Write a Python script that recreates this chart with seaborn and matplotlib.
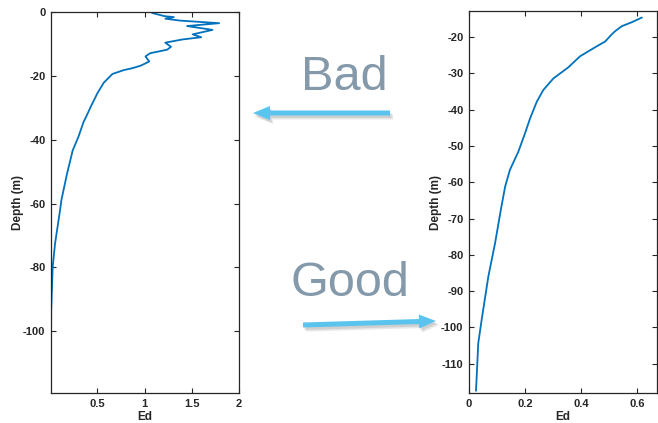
import numpy as np
import pandas as pd
import matplotlib
matplotlib.use("Agg")
import matplotlib.pyplot as plt
import seaborn as sns
from matplotlib.patches import FancyArrow

# ---- data ----
bad_ed = [1.08, 1.21, 1.31, 1.22, 1.38, 1.79, 1.45, 1.72, 1.51, 1.60,
          1.40, 1.22, 1.28, 1.24, 1.06, 1.01, 1.05, 0.96, 0.87, 0.78, 0.66, 0.567,
          0.50, 0.43, 0.39, 0.355, 0.30, 0.24, 0.18, 0.12, 0.106, 0.053,
          0.028, 0.012, 0.010]
bad_depth = [-0.3, -1.3, -1.6, -2.1, -2.7, -3.5, -4.4, -5.6, -7.0, -7.9,
             -8.6, -9.6, -10.9, -11.8, -12.9, -13.9, -15.5, -16.8, -17.6, -18.2, -19.4, -22.2,
             -25.5, -29.7, -32.3, -34.4, -39.1, -43.3, -50.6, -58.9, -62.0, -72.5,
             -79.8, -93.4, -108.0]

good_ed = [0.617, 0.581, 0.545, 0.521, 0.51, 0.486, 0.45, 0.396, 0.355, 0.301,
           0.265, 0.242, 0.218, 0.200, 0.176, 0.146, 0.129, 0.115, 0.093,
           0.069, 0.045, 0.033, 0.025]
good_depth = [-14.6, -15.9, -17.0, -18.4, -19.2, -21.2, -22.8, -25.3, -28.3, -31.4,
              -34.6, -37.8, -42.4, -46.5, -51.6, -56.6, -61.2, -67.0, -76.8,
              -86.0, -98.0, -104.4, -117.5]

bad_xticks = [0.5, 1, 1.5, 2]
bad_yticks = [0, -20, -40, -60, -80, -100]
good_xticks = [0, 0.2, 0.4, 0.6]
good_yticks = [-20, -30, -40, -50, -60, -70, -80, -90, -100, -110]

# ---- style ----
sns.set_theme(style="white")
plt.rcParams['font.family'] = ['Liberation Sans', 'DejaVu Sans']
plt.rcParams['axes.unicode_minus'] = False

W, H = 658, 423
fig = plt.figure(figsize=(W / 100, H / 100), dpi=100)
fig.patch.set_facecolor('white')

line_color = '#0072BD'
spine_color = '#262626'


def px_axes(l, t, r, b):
    return fig.add_axes([l / W, 1 - b / H, (r - l) / W, (b - t) / H])


def style_axes(ax, xticks, yticks, xlim, ylim):
    ax.set_xlim(*xlim)
    ax.set_ylim(*ylim)
    ax.set_xticks(xticks)
    ax.set_yticks(yticks)
    ax.set_xticklabels([f"{v:g}" for v in xticks], fontweight='bold', fontsize=8)
    ax.set_yticklabels([f"{v:g}" for v in yticks], fontweight='bold', fontsize=8)
    ax.tick_params(direction='in', length=3.5, width=0.8, top=True, right=True,
                   bottom=True, left=True, colors=spine_color, labelcolor='#262626', pad=4)
    for s in ax.spines.values():
        s.set_color(spine_color)
        s.set_linewidth(0.9)
        s.set_visible(True)
    ax.set_xlabel('Ed', fontweight='bold', fontsize=8.5, labelpad=2)
    ax.set_ylabel('Depth (m)', fontweight='bold', fontsize=8.5, labelpad=-0.5)
    ax.grid(False)


ax1 = px_axes(51, 12, 239, 393)
df1 = pd.DataFrame({'Ed': bad_ed, 'Depth': bad_depth})
sns.lineplot(data=df1, x='Ed', y='Depth', sort=False, estimator=None,
             color=line_color, linewidth=1.3, ax=ax1)
style_axes(ax1, bad_xticks, bad_yticks, (0.01, 2.0), (-119.3, 0))

ax2 = px_axes(469, 11, 657, 393)
df2 = pd.DataFrame({'Ed': good_ed, 'Depth': good_depth})
sns.lineplot(data=df2, x='Ed', y='Depth', sort=False, estimator=None,
             color=line_color, linewidth=1.3, ax=ax2)
style_axes(ax2, good_xticks, good_yticks, (0, 0.671), (-118.1, -12.8))

# ---- overlay annotations in pixel coords ----
ov = fig.add_axes([0, 0, 1, 1], facecolor='none')
ov.set_xlim(0, W)
ov.set_ylim(H, 0)
ov.axis('off')

txt_color = '#8499AA'
ov.text(344, 78, 'Bad', fontsize=35, color=txt_color, ha='center', va='center')
ov.text(350, 283, 'Good', fontsize=35, color=txt_color, ha='center', va='center')

arrow_color = '#5BC4EE'


def draw_arrow(x0, y0, x1, y1):
    dx, dy = x1 - x0, y1 - y0
    for off, col, a in [((3, 4), '#b0b0b0', 0.3), ((1.5, 2.5), '#9a9a9a', 0.3),
                        ((0, 0), arrow_color, 1.0)]:
        ov.add_patch(FancyArrow(x0 + off[0], y0 + off[1], dx, dy, width=5,
                                head_width=14, head_length=17,
                                length_includes_head=True, color=col, alpha=a,
                                linewidth=0))


draw_arrow(390, 113, 253, 113)
draw_arrow(303, 325, 436, 321)

fig.savefig('out.png', dpi=100, facecolor='white')
